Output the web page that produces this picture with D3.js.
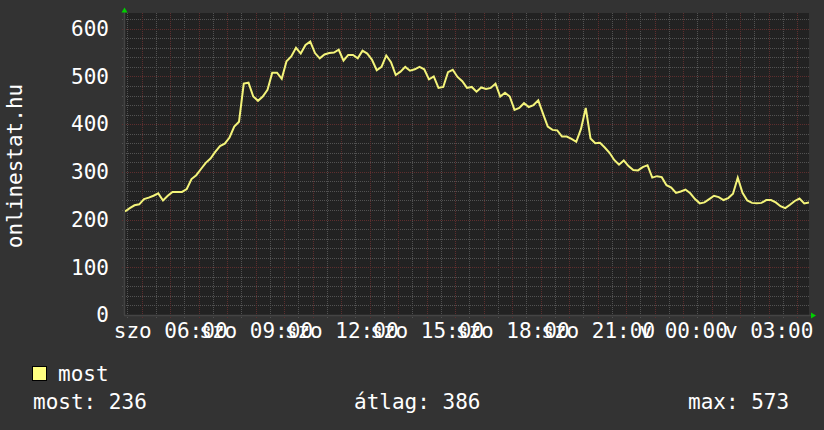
<!DOCTYPE html>
<html><head><meta charset="utf-8">
<script src="https://cdn.jsdelivr.net/npm/d3@7"></script>
<style>html,body{margin:0;padding:0;background:#333;} svg{display:block;}</style>
</head><body><svg id="c" width="824" height="430"></svg>
<script>
// ---- data ----
const startTime = "2010-01-02T04:25";   // szombat 04:25
const stepMinutes = 10;
const values = [217,224,230,232,243,246,250,255,240,250,
258,258,258,264,285,293,306,319,328,342,
354,359,372,395,405,485,487,458,449,458,
472,508,508,495,532,542,560,548,566,573,
549,538,546,549,550,556,533,545,545,538,
554,548,535,513,520,544,530,503,510,520,
512,515,520,515,494,500,476,478,509,514,
499,490,476,478,468,477,474,476,485,458,
466,458,430,434,444,436,440,450,422,395,
388,387,374,374,369,363,390,434,370,360,
361,351,340,325,315,324,312,304,303,310,
314,288,291,289,272,267,256,259,263,255,
243,234,236,243,250,247,241,245,254,288,
256,240,235,234,235,241,241,236,228,224,
231,239,244,234,236];
const yTicks = [0,100,200,300,400,500,600];
const xTickTimes = ["2010-01-02T06:00","2010-01-02T09:00","2010-01-02T12:00","2010-01-02T15:00",
  "2010-01-02T18:00","2010-01-02T21:00","2010-01-03T00:00","2010-01-03T03:00"];
const xTickLabels = ["szo 06:00","szo 09:00","szo 12:00","szo 15:00","szo 18:00","szo 21:00","v 00:00","v 03:00"];
const seriesName = "most";
const statLabels = ["most: 236","átlag: 386","max: 573"];
const yTitle = "onlinestat.hu";

// ---- layout ----
const FONT = "'DejaVu Sans Mono', monospace";
const FS = 21;
const L = 125, R = 809, T = 13, B = 315;
const svg = d3.select("#c");
svg.append("rect").attr("width",824).attr("height",430).attr("fill","#333");

const t0 = new Date(startTime);
const t1 = d3.timeHour.offset(t0, 24);
const data = values.map((v,i)=>({t:d3.timeMinute.offset(t0, i*stepMinutes), v}));

const x = d3.scaleTime().domain([t0,t1]).range([L,R]);
const y = d3.scaleLinear().domain([0,633]).range([B,T]);

svg.append("rect").attr("x",L).attr("y",T).attr("width",R-L).attr("height",B-T).attr("fill","#222");

const minorCol = "#525252", majorCol = "#5e2e2e";
function grid(gen, col){
  const g = svg.append("g").call(gen);
  g.select(".domain").remove();
  g.selectAll("text").remove();
  g.selectAll("line").attr("stroke",col).attr("stroke-dasharray","1,1").attr("stroke-width",1)
    .attr("shape-rendering","crispEdges");
  return g;
}
// minor grid
const halfHours = d3.timeMinute.every(30).range(t0,t1).filter(d=>d.getMinutes()===30);
const minorY = d3.range(20,633,20).filter(v=>v%100!==0);
grid(d3.axisBottom(x).tickValues(halfHours).tickSize(-(B-T)).tickFormat(""), minorCol)
  .attr("transform",`translate(0,${B})`).selectAll("line").attr("y1",3);
grid(d3.axisLeft(y).tickValues(minorY).tickSize(-(R-L)).tickFormat(""), minorCol)
  .attr("transform",`translate(${L},0)`).selectAll("line").attr("x1",-3);
// major grid
const hours = d3.timeHour.every(1).range(t0,t1);
grid(d3.axisBottom(x).tickValues(hours).tickSize(-(B-T)).tickFormat(""), majorCol)
  .attr("transform",`translate(0,${B})`).selectAll("line").attr("y1",3);
grid(d3.axisLeft(y).tickValues(yTicks.filter(v=>v>0)).tickSize(-(R-L)).tickFormat(""), majorCol)
  .attr("transform",`translate(${L},0)`).selectAll("line").attr("x1",-3);

// axis lines
svg.append("line").attr("x1",L-0.5).attr("x2",L-0.5).attr("y1",T-2).attr("y2",B+0.5)
  .attr("stroke","#444").attr("stroke-width",1.5);
svg.append("line").attr("x1",L-1).attr("x2",R+3).attr("y1",B+0.5).attr("y2",B+0.5)
  .attr("stroke","#444").attr("stroke-width",1.5);
// arrows
svg.append("path").attr("d",`M${L-3.5},${T-0.5}L${L+2.5},${T-0.5}L${L-0.5},${T-5.5}Z`).attr("fill","#00d000");
svg.append("path").attr("d",`M${R+2},${B-2.5}L${R+2},${B+3.5}L${R+7},${B+0.5}Z`).attr("fill","#00d000");

// series line
svg.append("clipPath").attr("id","clip").append("rect").attr("x",L).attr("y",T).attr("width",R-L).attr("height",B-T);
const line = d3.line().x(d=>x(d.t)).y(d=>y(d.v));
svg.append("path").datum(data).attr("d",line).attr("fill","none").attr("stroke","#f4f47a")
  .attr("stroke-width",2).attr("stroke-linejoin","miter").attr("clip-path","url(#clip)");

// y axis labels
const ya = svg.append("g").attr("transform",`translate(${L},0)`)
  .call(d3.axisLeft(y).tickValues(yTicks).tickSize(0).tickPadding(16));
ya.select(".domain").remove();
ya.selectAll("text").attr("fill","#fff").attr("font-family",FONT).attr("font-size",FS);

// x axis labels
const xa = svg.append("g").attr("transform",`translate(0,${B})`)
  .call(d3.axisBottom(x).tickValues(xTickTimes.map(s=>new Date(s))).tickSize(0).tickPadding(8)
    .tickFormat((d,i)=>xTickLabels[i]));
xa.select(".domain").remove();
xa.selectAll("text").attr("fill","#fff").attr("font-family",FONT).attr("font-size",FS);

// y title
svg.append("text").attr("transform","translate(22,166) rotate(-90)").attr("text-anchor","middle")
  .attr("fill","#fff").attr("font-family",FONT).attr("font-size",FS).text(yTitle);

// legend
svg.append("rect").attr("x",32.5).attr("y",366.5).attr("width",14).attr("height",14)
  .attr("fill","#ffff80").attr("stroke","#000");
svg.append("text").attr("x",58).attr("y",381).attr("fill","#fff").attr("font-family",FONT)
  .attr("font-size",FS).text(seriesName);
const statX = [33,354,688];
svg.selectAll(".stat").data(statLabels).enter().append("text").attr("class","stat")
  .attr("x",(d,i)=>statX[i]).attr("y",409).attr("fill","#fff").attr("font-family",FONT)
  .attr("font-size",FS).text(d=>d);
</script></body></html>
